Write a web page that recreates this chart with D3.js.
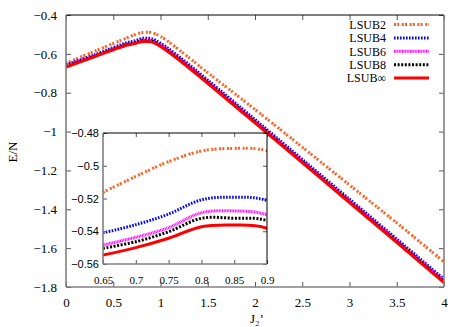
<!DOCTYPE html>
<html>
<head>
<meta charset="utf-8">
<script src="https://cdn.jsdelivr.net/npm/d3@7"></script>
<style>
  body { margin: 0; background: #fff; }
  svg { display: block; }
</style>
</head>
<body>
<svg id="chart"></svg>
<script>
// J2' grid and the energies per site for each LSUB level
const xs      = [0, 0.3, 0.65, 0.7, 0.75, 0.8, 0.85, 0.9, 1.0, 1.25, 1.5, 2, 2.5, 3, 3.5, 4];
const lsub2   = [-0.647, -0.587, -0.5162, -0.5065, -0.4975, -0.4910, -0.4894, -0.4908, -0.510, -0.600, -0.697, -0.886, -1.080, -1.275, -1.470, -1.671];
const lsub4   = [-0.657, -0.605, -0.5410, -0.5360, -0.5295, -0.5208, -0.5192, -0.5213, -0.545, -0.635, -0.735, -0.938, -1.143, -1.348, -1.553, -1.760];
const lsub6   = [-0.661, -0.610, -0.5484, -0.5437, -0.5378, -0.5287, -0.5276, -0.5300, -0.553, -0.643, -0.743, -0.946, -1.151, -1.356, -1.561, -1.768];
const lsub8   = [-0.664, -0.612, -0.5504, -0.5464, -0.5403, -0.5321, -0.5321, -0.5335, -0.557, -0.647, -0.747, -0.950, -1.155, -1.360, -1.565, -1.772];
const lsubInf = [-0.668, -0.615, -0.5545, -0.5500, -0.5443, -0.5372, -0.5362, -0.5382, -0.562, -0.652, -0.752, -0.955, -1.160, -1.365, -1.570, -1.778];

const seriesNames = ['LSUB2', 'LSUB4', 'LSUB6', 'LSUB8', 'LSUB\u221e'];
const seriesVals = [lsub2, lsub4, lsub6, lsub8, lsubInf];
const colors = ['#ff6020', '#0000ff', '#ff00ff', '#000000', '#ff0000'];
const dashes = ['2,1.2,2,2.6', '1.6,1.4', '1,0.6', '2,1.6', null];

const xTicks = [0, 0.5, 1, 1.5, 2, 2.5, 3, 3.5, 4];
const yTicks = [-0.4, -0.6, -0.8, -1, -1.2, -1.4, -1.6, -1.8];
const insetXTicks = [0.65, 0.7, 0.75, 0.8, 0.85, 0.9];
const insetYTicks = [-0.48, -0.5, -0.52, -0.54, -0.56];

const W = 467, H = 327;
const svg = d3.select('#chart').attr('width', W).attr('height', H);

const serif = 'Liberation Serif';
const sans = 'Liberation Sans';
const minus = s => s.replace('-', '\u2212');

const x = d3.scaleLinear().domain([0, 4]).range([66, 444]);
const y = d3.scaleLinear().domain([-1.8, -0.4]).range([287, 15]);

const data = seriesVals.map((vals, i) => ({
  name: seriesNames[i],
  pts: xs.map((xv, j) => [xv, vals[j]])
}));

svg.append('clipPath').attr('id', 'mainClip')
  .append('rect').attr('x', 66).attr('y', 15).attr('width', 378).attr('height', 272);

// main axes, ticks pointing inward
const gx = svg.append('g').attr('transform', 'translate(0,287)')
  .call(d3.axisBottom(x).tickValues(xTicks).tickSize(-5).tickPadding(11)
    .tickFormat(d => d3.format('')(d)));
gx.attr('font-family', serif).attr('font-size', 13);
gx.select('.domain').remove();
gx.selectAll('line').attr('stroke', '#555');
gx.selectAll('text').attr('fill', '#000');

const gy = svg.append('g').attr('transform', 'translate(66,0)')
  .call(d3.axisLeft(y).tickValues(yTicks).tickSize(-5).tickPadding(9)
    .tickFormat(d => minus(String(d))));
gy.attr('font-family', serif).attr('font-size', 13);
gy.select('.domain').remove();
gy.selectAll('line').attr('stroke', '#555');
gy.selectAll('text').attr('fill', '#000');

// mirrored ticks on top and right
svg.append('g').attr('transform', 'translate(0,15)')
  .call(d3.axisTop(x).tickValues(xTicks).tickSize(-5).tickFormat(''))
  .call(g => g.select('.domain').remove())
  .selectAll('line').attr('stroke', '#555');
svg.append('g').attr('transform', 'translate(444,0)')
  .call(d3.axisRight(y).tickValues(yTicks).tickSize(-5).tickFormat(''))
  .call(g => g.select('.domain').remove())
  .selectAll('line').attr('stroke', '#555');

const line = d3.line().x(d => x(d[0])).y(d => y(d[1])).curve(d3.curveCatmullRom);

svg.append('g').attr('clip-path', 'url(#mainClip)')
  .selectAll('path').data(data).enter().append('path')
    .attr('d', d => line(d.pts))
    .attr('fill', 'none')
    .attr('stroke', (d, i) => colors[i])
    .attr('stroke-width', 3)
    .attr('stroke-dasharray', (d, i) => dashes[i]);

// frame
svg.append('line').attr('x1', 66).attr('x2', 444).attr('y1', 15).attr('y2', 15).attr('stroke', '#000').attr('stroke-width', 1);
svg.append('line').attr('x1', 66).attr('x2', 66).attr('y1', 15).attr('y2', 287).attr('stroke', '#808080').attr('stroke-width', 1.6);
svg.append('line').attr('x1', 66).attr('x2', 444).attr('y1', 287).attr('y2', 287).attr('stroke', '#808080').attr('stroke-width', 1.6);
svg.append('line').attr('x1', 444).attr('x2', 444).attr('y1', 15).attr('y2', 287).attr('stroke', '#808080').attr('stroke-width', 1.6);

// axis titles
svg.append('text')
  .attr('transform', 'translate(17,152) rotate(-90)')
  .attr('text-anchor', 'middle')
  .attr('font-family', serif).attr('font-size', 13)
  .text('E/N');

svg.append('text')
  .attr('x', 250).attr('y', 323)
  .attr('font-family', serif).attr('font-size', 13)
  .text('J\u2082\u2019');

// inset
const ix = d3.scaleLinear().domain([0.65, 0.9]).range([103, 267]);
const iy = d3.scaleLinear().domain([-0.56, -0.48]).range([264, 133]);

svg.append('rect').attr('x', 103).attr('y', 133).attr('width', 164).attr('height', 131)
  .attr('fill', '#fff');

svg.append('clipPath').attr('id', 'insetClip')
  .append('rect').attr('x', 103).attr('y', 133).attr('width', 164).attr('height', 131);

const iline = d3.line().x(d => ix(d[0])).y(d => iy(d[1])).curve(d3.curveCatmullRom);

svg.append('g').attr('clip-path', 'url(#insetClip)')
  .selectAll('path').data(data).enter().append('path')
    .attr('d', d => iline(d.pts.filter(p => p[0] >= 0.6 && p[0] <= 1.0)))
    .attr('fill', 'none')
    .attr('stroke', (d, i) => colors[i])
    .attr('stroke-width', 3)
    .attr('stroke-dasharray', (d, i) => dashes[i]);

const igx = svg.append('g').attr('transform', 'translate(0,264)')
  .call(d3.axisBottom(ix).tickValues(insetXTicks).tickSize(-4).tickPadding(12)
    .tickFormat(d => d3.format('')(d)));
igx.attr('font-family', serif).attr('font-size', 11);
igx.select('.domain').remove();
igx.selectAll('line').attr('stroke', '#555');
igx.selectAll('text').attr('fill', '#000');

const igy = svg.append('g').attr('transform', 'translate(103,0)')
  .call(d3.axisLeft(iy).tickValues(insetYTicks).tickSize(-4).tickPadding(4)
    .tickFormat(d => minus(d3.format('')(d))));
igy.attr('font-family', sans).attr('font-size', 11);
igy.select('.domain').remove();
igy.selectAll('line').attr('stroke', '#555');
igy.selectAll('text').attr('fill', '#000');

svg.append('g').attr('transform', 'translate(0,133)')
  .call(d3.axisTop(ix).tickValues(insetXTicks).tickSize(-4).tickFormat(''))
  .call(g => g.select('.domain').remove())
  .selectAll('line').attr('stroke', '#555');
svg.append('g').attr('transform', 'translate(267,0)')
  .call(d3.axisRight(iy).tickValues(insetYTicks).tickSize(-4).tickFormat(''))
  .call(g => g.select('.domain').remove())
  .selectAll('line').attr('stroke', '#555');

svg.append('line').attr('x1', 103).attr('x2', 267).attr('y1', 133).attr('y2', 133).attr('stroke', '#000').attr('stroke-width', 1);
svg.append('line').attr('x1', 267).attr('x2', 267).attr('y1', 133).attr('y2', 264).attr('stroke', '#000').attr('stroke-width', 1);
svg.append('line').attr('x1', 103).attr('x2', 103).attr('y1', 133).attr('y2', 264).attr('stroke', '#808080').attr('stroke-width', 1.6);
svg.append('line').attr('x1', 103).attr('x2', 267).attr('y1', 264).attr('y2', 264).attr('stroke', '#808080').attr('stroke-width', 1.6);

// legend
const legend = svg.append('g').selectAll('g').data(seriesNames).enter().append('g')
  .attr('transform', (d, i) => 'translate(0,' + (24.5 + i * 13.4) + ')');
legend.append('text')
  .attr('x', 386).attr('dy', '0.35em')
  .attr('text-anchor', 'end')
  .attr('font-family', serif).attr('font-size', 12)
  .text(d => d);
legend.append('line')
  .attr('x1', 394).attr('x2', 429)
  .attr('stroke', (d, i) => colors[i])
  .attr('stroke-width', 3)
  .attr('stroke-dasharray', (d, i) => dashes[i]);
</script>
</body>
</html>
